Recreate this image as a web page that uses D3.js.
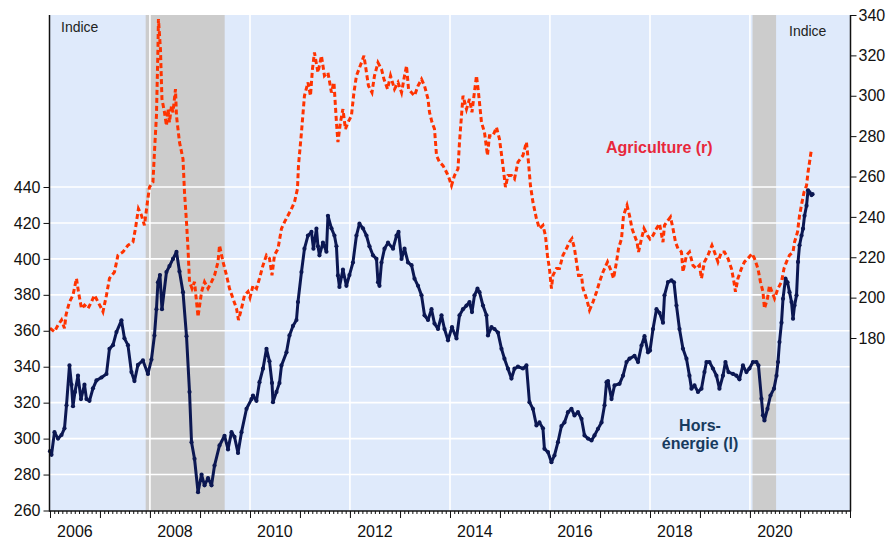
<!DOCTYPE html>
<html><head><meta charset="utf-8">
<script src="https://cdn.jsdelivr.net/npm/d3@7"></script>
<style>body{margin:0;background:#fff}svg{display:block;font-family:Arial,"Liberation Sans",sans-serif}</style>
</head><body><svg id="c" width="893" height="542"></svg>
<script>
// Hors-énergie (left axis) — decimal years and index values
const horsYears = [2006.00,2006.03,2006.09,2006.16,2006.23,2006.29,2006.33,2006.39,2006.43,2006.46,2006.50,2006.56,2006.62,2006.69,2006.73,2006.79,2006.86,2006.93,2007.03,2007.13,2007.19,2007.26,2007.33,2007.43,2007.49,2007.56,2007.63,2007.69,2007.76,2007.86,2007.96,2008.03,2008.09,2008.13,2008.16,2008.20,2008.24,2008.33,2008.39,2008.46,2008.53,2008.59,2008.66,2008.73,2008.79,2008.83,2008.89,2008.96,2009.03,2009.09,2009.16,2009.23,2009.29,2009.39,2009.49,2009.56,2009.63,2009.69,2009.76,2009.83,2009.93,2010.03,2010.06,2010.13,2010.19,2010.26,2010.33,2010.39,2010.44,2010.46,2010.53,2010.59,2010.63,2010.73,2010.79,2010.86,2010.93,2010.96,2011.03,2011.09,2011.16,2011.23,2011.27,2011.33,2011.36,2011.39,2011.46,2011.53,2011.56,2011.63,2011.69,2011.73,2011.76,2011.79,2011.86,2011.93,2011.99,2012.06,2012.13,2012.19,2012.26,2012.33,2012.39,2012.46,2012.53,2012.56,2012.59,2012.63,2012.69,2012.76,2012.86,2012.93,2012.97,2013.03,2013.09,2013.16,2013.23,2013.29,2013.36,2013.43,2013.49,2013.56,2013.63,2013.69,2013.76,2013.83,2013.89,2013.96,2014.04,2014.13,2014.19,2014.26,2014.33,2014.39,2014.44,2014.49,2014.55,2014.59,2014.66,2014.73,2014.76,2014.83,2014.89,2014.96,2015.03,2015.09,2015.16,2015.23,2015.29,2015.36,2015.46,2015.53,2015.59,2015.66,2015.73,2015.79,2015.86,2015.89,2015.96,2016.03,2016.09,2016.16,2016.23,2016.29,2016.36,2016.43,2016.49,2016.56,2016.63,2016.69,2016.76,2016.83,2016.89,2016.96,2017.03,2017.09,2017.13,2017.16,2017.23,2017.29,2017.39,2017.46,2017.53,2017.59,2017.69,2017.76,2017.83,2017.89,2017.96,2018.00,2018.06,2018.13,2018.19,2018.26,2018.29,2018.36,2018.43,2018.48,2018.53,2018.59,2018.66,2018.73,2018.79,2018.83,2018.89,2018.96,2019.03,2019.09,2019.13,2019.19,2019.26,2019.33,2019.39,2019.46,2019.51,2019.57,2019.66,2019.73,2019.79,2019.86,2019.93,2019.99,2020.06,2020.13,2020.17,2020.23,2020.26,2020.29,2020.35,2020.41,2020.48,2020.53,2020.56,2020.59,2020.63,2020.66,2020.71,2020.75,2020.79,2020.83,2020.86,2020.89,2020.93,2020.96,2020.99,2021.03,2021.06,2021.09,2021.13,2021.16,2021.19,2021.23,2021.25];
const horsValues = [293,291,303.6,300,302,305.7,318.5,340.7,330,318,326,335,322,330,322,321,328,332.4,334,336,350,352,359.3,365.8,355.8,352,337,332,341,343.5,336,344,357.4,372,387,391,372,392.7,396,400,403.9,393,381.5,357,326,298,288.8,270.2,280,274,278,274,285,296.2,301.6,294,303.6,301,292,303.6,316.6,322,324,321,331.4,338.9,350,343,331,320.3,326,331,340.7,348,357.4,362.7,366,376,392.7,405.7,413,415,405.7,416.8,407,402,409,404,424,417,413,407,390.8,384.4,394,385,391,398,413,419.6,417,413,407,402,400,387,385,398,405.7,409,405.7,413,415,400,405.7,398,396.5,389,385,379.7,368.6,366,372,364,361,368.6,361,354.7,362,355.7,368.6,372,374,376,370.4,379.7,383.4,381.5,374,368.6,357.4,362,361,359,350,344.5,338.9,333.4,338.9,340,339,340.7,320.3,316.6,307.3,309,305.7,294.3,292.5,286.9,290.6,298,307,309,314.7,316.6,312.9,314.7,311,301.8,300,299,301.8,305.5,309,318.5,331.4,332,322,329.6,330.5,335,342.6,344.5,346,342.6,351.8,357,348,349,361,372,370,364.5,379.7,387.1,388,387,374,361,350,344.5,335,327.8,329.6,326,327.8,337,342.6,342.6,339,335,327.8,335,342.6,337,336,335,333,340.7,337,339,342.6,342.6,340.7,322.2,313,310.1,316.6,324,327.8,335,342.6,353.7,364.5,377.8,389,387,381.5,376,366.7,374,379.7,398.3,407.6,413,416.8,424,429.6,438.2,437,435.5,436];

// Agriculture (right axis)
const agriYears = [2006.00,2006.09,2006.16,2006.23,2006.29,2006.32,2006.39,2006.46,2006.53,2006.57,2006.63,2006.69,2006.76,2006.83,2006.89,2006.96,2007.03,2007.06,2007.13,2007.19,2007.29,2007.36,2007.46,2007.56,2007.66,2007.71,2007.77,2007.83,2007.89,2007.95,2007.99,2008.06,2008.09,2008.13,2008.16,2008.17,2008.21,2008.24,2008.29,2008.33,2008.36,2008.39,2008.43,2008.46,2008.51,2008.53,2008.59,2008.66,2008.69,2008.73,2008.76,2008.79,2008.84,2008.89,2008.93,2008.96,2009.03,2009.09,2009.16,2009.23,2009.29,2009.36,2009.39,2009.46,2009.53,2009.59,2009.66,2009.73,2009.77,2009.83,2009.89,2009.96,2010.00,2010.06,2010.13,2010.19,2010.26,2010.33,2010.39,2010.44,2010.49,2010.56,2010.63,2010.69,2010.76,2010.83,2010.89,2010.95,2010.97,2011.03,2011.09,2011.16,2011.21,2011.25,2011.29,2011.36,2011.43,2011.49,2011.56,2011.63,2011.68,2011.73,2011.76,2011.81,2011.86,2011.91,2011.96,2012.03,2012.08,2012.13,2012.23,2012.28,2012.33,2012.37,2012.44,2012.49,2012.56,2012.63,2012.68,2012.75,2012.81,2012.89,2012.96,2013.03,2013.09,2013.13,2013.17,2013.23,2013.29,2013.36,2013.43,2013.49,2013.56,2013.59,2013.64,2013.69,2013.73,2013.79,2013.86,2013.93,2013.97,2014.03,2014.09,2014.16,2014.19,2014.23,2014.26,2014.33,2014.39,2014.44,2014.48,2014.53,2014.57,2014.63,2014.69,2014.75,2014.79,2014.86,2014.93,2014.99,2015.06,2015.11,2015.16,2015.23,2015.29,2015.36,2015.46,2015.53,2015.57,2015.61,2015.66,2015.73,2015.79,2015.86,2015.91,2015.95,2015.99,2016.03,2016.06,2016.13,2016.19,2016.26,2016.33,2016.39,2016.44,2016.49,2016.53,2016.57,2016.63,2016.66,2016.73,2016.79,2016.86,2016.93,2016.99,2017.06,2017.15,2017.23,2017.27,2017.33,2017.37,2017.43,2017.47,2017.54,2017.59,2017.64,2017.69,2017.74,2017.77,2017.83,2017.88,2017.95,2018.00,2018.06,2018.13,2018.19,2018.26,2018.29,2018.36,2018.41,2018.46,2018.51,2018.56,2018.63,2018.66,2018.73,2018.79,2018.86,2018.93,2018.99,2019.03,2019.09,2019.16,2019.24,2019.29,2019.36,2019.43,2019.49,2019.56,2019.63,2019.68,2019.71,2019.76,2019.83,2019.89,2019.96,2020.04,2020.09,2020.16,2020.21,2020.26,2020.29,2020.35,2020.39,2020.44,2020.49,2020.56,2020.63,2020.68,2020.73,2020.79,2020.86,2020.89,2020.95,2020.99,2021.04,2021.08,2021.13,2021.16,2021.19,2021.23];
const agriValues = [184.8,183.1,186.4,188.9,184.8,191.4,197.9,201.2,209.5,202.8,194.6,196.3,194.6,197.9,201.2,197.9,194.6,193,201.2,209.5,212.7,221,222.6,225.9,227.5,234.2,244,240.8,235.8,247.3,254.7,257.2,272,290.1,323,338,323,298.4,291.8,285.2,293.4,286.8,295,291.8,303.3,290,277,268.7,252.2,237.4,224.2,207.8,204.5,207.8,197.9,190.5,202.8,207.8,204.5,207.8,211,217.7,225.9,217.7,211,204.5,199.5,194.6,188.9,194.6,201.2,203,200,206,204.5,209.5,216,221,219.4,211.1,221,224.2,234.2,237.4,240.7,244,247.3,253.9,265.4,281.9,300,306.6,300,313.2,321.4,311.5,319.8,309.9,311.5,301.6,306.6,286.8,277,286.8,293.4,283.5,286.8,290.1,301.6,309.9,316.4,319.8,311.5,304.9,301.6,309.9,316.4,313.2,308.2,303.3,309.9,303.3,306.6,301.6,309.9,314.8,303.3,301.6,300,304.9,308.2,304.9,298.4,291.8,286.8,283.5,270.4,267.1,265.4,262.1,260,255.5,260.5,263.8,277,290.1,300,293.4,298.4,291.8,300,309.9,301.6,286.8,281.9,270.4,280.2,280.2,284.4,278.6,265.4,254.7,260.5,260.5,258.8,267.1,270.4,277,267.1,255.5,247.3,239.1,234.2,235.8,230.8,221,214.4,204.5,211,214.4,214.4,221,224.3,227.5,229.2,224.3,217.7,211,211,204.5,199.6,193.8,197.9,202.8,207.8,212.7,217.7,212.7,209.5,217.7,224.3,229.2,240.7,245.7,240.7,234.2,230.8,227.5,222.6,229.2,234.2,230.8,229,230.8,234.2,236.6,227.5,235.8,238.3,239.9,234.2,227.5,224.3,222.6,212.7,221,222.6,216,214.4,216,209.5,217.7,221,225.9,222.6,217.7,222.6,222.6,219.4,214.4,207.8,202.9,209.5,214.4,217.7,219.4,221.8,219.4,214.4,207.8,202.9,194.6,199.6,206,202.9,199.6,204.5,207.8,214.4,217.7,221,222.6,227.5,232.5,240.7,247.3,252.2,255.5,262.1,267.1,273.7];

const leftTicks = [260,280,300,320,340,360,380,400,420,440];
const rightTicks = [180,200,220,240,260,280,300,320,340];
const yearLabels = [2006,2008,2010,2012,2014,2016,2018,2020];
const recessions = [["2007-12-01","2009-06-30"],["2020-01-20","2020-07-10"]];

const L = 50, R = 850, T = 15, B = 511;
const svg = d3.select("#c");

function dy(y){const yr=Math.floor(y);const s=new Date(yr,0,1),e=new Date(yr+1,0,1);return new Date(+s+(y-yr)*(e-s));}

const x = d3.scaleTime().domain([new Date(2006,0,1), new Date(2022,0,1)]).range([L, R]);
const yL = d3.scaleLinear().domain([260,440]).range([510.5,187]);
const yR = d3.scaleLinear().domain([180,340]).range([338,15]);

svg.append("rect").attr("x",L).attr("y",T).attr("width",R-L).attr("height",B-T).attr("fill","#dfeafb");

const pd = d3.timeParse("%Y-%m-%d");
svg.selectAll(".rec").data(recessions).join("rect")
  .attr("x",d=>x(pd(d[0]))).attr("y",T)
  .attr("width",d=>x(pd(d[1]))-x(pd(d[0]))).attr("height",B-T)
  .attr("fill","#cccccc");

svg.append("g").selectAll("line").data(leftTicks.filter(v=>v>260)).join("line")
  .attr("x1",L).attr("x2",R).attr("y1",d=>yL(d)).attr("y2",d=>yL(d))
  .attr("stroke","#ffffff").attr("stroke-width",1.6);
svg.append("g").selectAll("line").data(yearLabels.filter(v=>v>2006)).join("line")
  .attr("x1",d=>x(new Date(d,0,1))).attr("x2",d=>x(new Date(d,0,1))).attr("y1",T).attr("y2",B)
  .attr("stroke","#ffffff").attr("stroke-width",1.6);

const hors = horsYears.map((t,i)=>({d:dy(t),v:horsValues[i]}));
const agri = agriYears.map((t,i)=>({d:dy(t),v:agriValues[i]}));

svg.append("path").datum(hors)
  .attr("d",d3.line().x(p=>x(p.d)).y(p=>yL(p.v)))
  .attr("fill","none").attr("stroke","#0b1752").attr("stroke-width",3).attr("stroke-linejoin","round");
svg.append("g").selectAll("circle").data(hors).join("circle")
  .attr("cx",p=>x(p.d)).attr("cy",p=>yL(p.v)).attr("r",2.1).attr("fill","#0b1752");

svg.append("path").datum(agri)
  .attr("d",d3.line().x(p=>x(p.d)).y(p=>yR(p.v)))
  .attr("fill","none").attr("stroke","#ff3300").attr("stroke-width",3)
  .attr("stroke-dasharray","5,3");

const gL = svg.append("g").attr("transform",`translate(${L-0.5},0)`)
  .call(d3.axisLeft(yL).tickValues(leftTicks).tickSize(6).tickPadding(3).tickFormat(d3.format("d")));
gL.select(".domain").remove();
const gR = svg.append("g").attr("transform",`translate(${R+0.5},0)`)
  .call(d3.axisRight(yR).tickValues(rightTicks).tickSize(6).tickPadding(2).tickFormat(d3.format("d")));
gR.select(".domain").remove();
[gL,gR].forEach(g=>{g.selectAll("text").attr("font-size",16).attr("fill","#111").attr("font-family","Arial, 'Liberation Sans', sans-serif");g.selectAll("line").attr("stroke","#111");});

const gM = svg.append("g").attr("transform",`translate(0,${B})`)
  .call(d3.axisBottom(x).ticks(d3.timeMonth.every(1)).tickSize(3).tickFormat(""));
gM.select(".domain").remove();
const gY = svg.append("g").attr("transform",`translate(0,${B})`)
  .call(d3.axisBottom(x).ticks(d3.timeYear.every(1)).tickSize(7).tickFormat(""));
gY.select(".domain").remove();
[gM,gY].forEach(g=>g.selectAll("line").attr("stroke","#111"));

svg.append("g").selectAll("text").data(yearLabels).join("text")
  .attr("x",d=>x(new Date(d,6,2))).attr("y",536.5).attr("text-anchor","middle")
  .attr("font-size",16).attr("fill","#111").text(d=>d);

svg.append("line").attr("x1",L-0.5).attr("x2",L-0.5).attr("y1",T).attr("y2",B+0.5).attr("stroke","#111").attr("stroke-width",1.5);
svg.append("line").attr("x1",R+0.5).attr("x2",R+0.5).attr("y1",T).attr("y2",B+0.5).attr("stroke","#111").attr("stroke-width",1.5);
svg.append("line").attr("x1",L-1).attr("x2",R+1).attr("y1",B).attr("y2",B).attr("stroke","#111").attr("stroke-width",1.5);

svg.append("text").attr("x",61).attr("y",32).attr("font-size",14).attr("fill","#222").text("Indice");
svg.append("text").attr("x",789).attr("y",36).attr("font-size",14).attr("fill","#222").text("Indice");
svg.append("text").attr("x",606).attr("y",153).attr("font-size",16).attr("font-weight","bold").attr("fill","#e8283c").text("Agriculture (r)");
svg.append("text").attr("x",700).attr("y",431).attr("text-anchor","middle").attr("font-size",16).attr("font-weight","bold").attr("fill","#173a5e").text("Hors-");
svg.append("text").attr("x",700).attr("y",449).attr("text-anchor","middle").attr("font-size",16).attr("font-weight","bold").attr("fill","#173a5e").text("énergie (l)");
</script></body></html>
